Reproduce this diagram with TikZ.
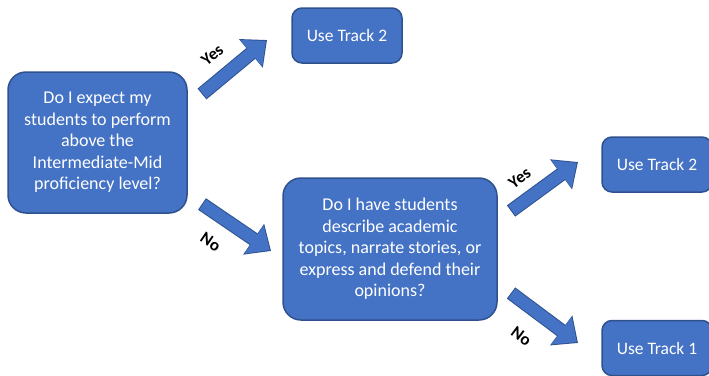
\documentclass[tikz,border=0pt]{standalone}
\usepackage{fontspec}
\setmainfont{Carlito}
\usetikzlibrary{positioning,arrows.meta}
\definecolor{boxfill}{HTML}{4472C4}
\definecolor{boxedge}{HTML}{2F528F}

\begin{document}
\begin{tikzpicture}[x=1pt,y=-1pt,
question/.style={draw=boxedge,fill=boxfill,line width=1.5pt,rounded corners=18pt,
    text=white,align=center,inner sep=0pt,font=\fontsize{18}{21.5}\selectfont},
track/.style={draw=boxedge,fill=boxfill,line width=1.5pt,rounded corners=10pt,
    text=white,align=center,inner sep=0pt,minimum width=110pt,minimum height=55pt,
    font=\fontsize{17.5}{21}\selectfont},
fatarrow/.style={draw=boxfill,line width=12pt,-{Triangle[length=19pt,width=33pt]},
    shorten >=1.5pt,shorten <=1pt,
    preaction={draw=boxedge,line width=14pt,shorten >=0pt,shorten <=0pt,
    -{Triangle[length=21pt,width=36pt]}}},
answer/.style={font=\fontsize{17}{20}\selectfont\bfseries,sloped,inner sep=1pt}]
\useasboundingbox (0,0) rectangle (709,375);
\clip (0,0) rectangle (709,375);

\node (expect) [question,minimum width=179pt,minimum height=141pt] at (97.5,142.5)
    {Do I expect my\\students to perform\\above the\\Intermediate-Mid\\proficiency level?};
\node (trackup) [track] at (347,35.5) {Use Track 2};
\node (describe) [question,minimum width=214pt,minimum height=142pt] at (390,249)
    {Do I have students\\describe academic\\topics, narrate stories, or\\express and defend their\\opinions?};
\node (tracktwo) [track] at (657,164.5) {Use Track 2};
\node (trackone) [track,below=127pt of tracktwo] {Use Track 1};

% arrow ends
\coordinate (yesfrom) at (202,94);
\coordinate (yesto) at (267,40);
\coordinate (nofrom) at (202,204);
\coordinate (noto) at (271,251);
\coordinate (yesfrom2) at (511,211);
\coordinate (yesto2) at (578,162);
\coordinate (nofrom2) at (511,293);
\coordinate (noto2) at (578,343);

\draw[fatarrow] (yesfrom) -- node (yeslabel) [answer,above=11pt,pos=0.39] {Yes} (yesto);
\draw[fatarrow] (nofrom) -- node (nolabel) [answer,below=14pt,pos=0.34] {No} (noto);
\draw[fatarrow] (yesfrom2) -- node (yeslabel2) [answer,above=9pt,pos=0.32] {Yes} (yesto2);
\draw[fatarrow] (nofrom2) -- node (nolabel2) [answer,below=16pt,pos=0.41] {No} (noto2);
\end{tikzpicture}
\end{document}
